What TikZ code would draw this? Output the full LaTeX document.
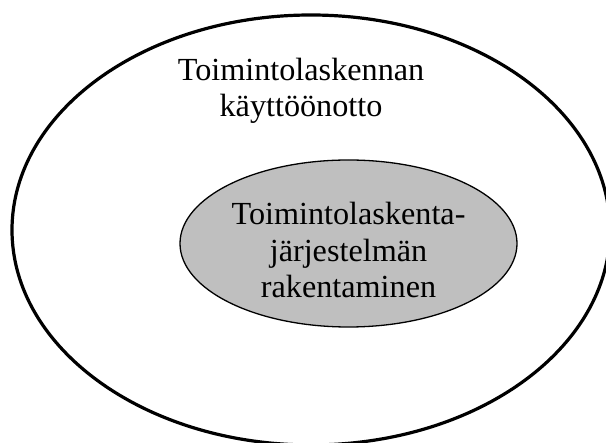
\documentclass[tikz,border=0pt]{standalone}
\usepackage{fontspec}
\setmainfont{Liberation Serif}
\usetikzlibrary{shapes.geometric}
\begin{document}
\begin{tikzpicture}[x=1pt,y=-1pt,
  label text/.style={align=center,font=\fontsize{32.2}{36.5}\selectfont,inner sep=0pt},
  outer ring/.style={draw=black,line width=3.2pt},
  inner ring/.style={draw=black,line width=1.3pt,fill=black!25}]
  \useasboundingbox (0,0) rectangle (606,443);
  % outer area: introduction of activity-based costing
  \draw[outer ring] (311,230) ellipse [x radius=299, y radius=215];
  % anchor=base of a multi-line node sits on its last line
  \node[label text,anchor=base] (outer) at (301,117)
    {Toimintolaskennan\\käyttöönotto};
  % inner area: building the costing system
  \draw[inner ring] (348.5,243.5) ellipse [x radius=168.5, y radius=83.5];
  \node[label text,anchor=base] (inner) at (348.5,298)
    {Toimintolaskenta-\\järjestelmän\\rakentaminen};
\end{tikzpicture}
\end{document}
